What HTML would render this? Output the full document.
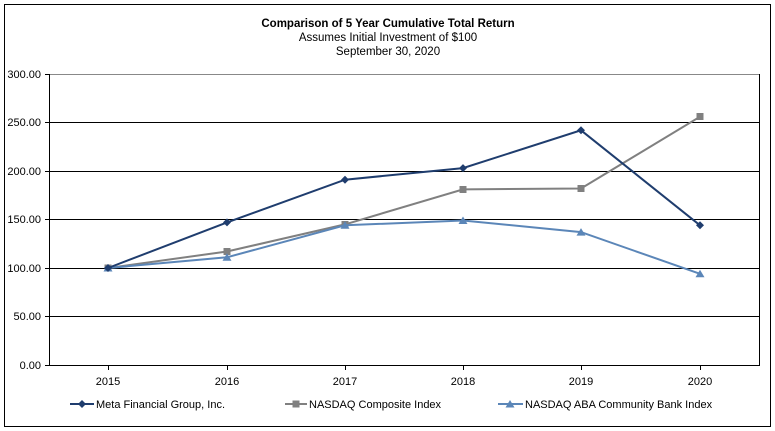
<!DOCTYPE html>
<html><head><meta charset="utf-8"><style>
html,body{margin:0;padding:0;background:#fff;}
svg{display:block;font-family:"Liberation Sans",Arial,sans-serif;}
</style></head><body>
<svg width="775" height="431" viewBox="0 0 775 431" xmlns="http://www.w3.org/2000/svg">
<rect x="4.5" y="4.5" width="766" height="422" fill="#fff" stroke="#000" stroke-width="1"/>
<text x="388" y="27" text-anchor="middle" font-size="11.5" font-weight="bold">Comparison of 5 Year Cumulative Total Return</text>
<text x="388" y="41" text-anchor="middle" font-size="11.5">Assumes Initial Investment of $100</text>
<text x="388" y="55" text-anchor="middle" font-size="11.5">September 30, 2020</text>
<g stroke-width="1">
<line x1="49" y1="74.5" x2="760" y2="74.5" stroke="#888"/>
<line x1="49" y1="122.5" x2="760" y2="122.5" stroke="#000"/>
<line x1="49" y1="171.5" x2="760" y2="171.5" stroke="#000"/>
<line x1="49" y1="219.5" x2="760" y2="219.5" stroke="#000"/>
<line x1="49" y1="268.5" x2="760" y2="268.5" stroke="#000"/>
<line x1="49" y1="316.5" x2="760" y2="316.5" stroke="#000"/>
<line x1="49" y1="365.5" x2="760" y2="365.5" stroke="#000"/>
<line x1="49.5" y1="74" x2="49.5" y2="366" stroke="#000"/>
<line x1="759.5" y1="74" x2="759.5" y2="366" stroke="#000"/>
<g stroke="#000">
<line x1="45" y1="74.5" x2="49" y2="74.5"/><line x1="45" y1="122.5" x2="49" y2="122.5"/><line x1="45" y1="171.5" x2="49" y2="171.5"/><line x1="45" y1="219.5" x2="49" y2="219.5"/><line x1="45" y1="268.5" x2="49" y2="268.5"/><line x1="45" y1="316.5" x2="49" y2="316.5"/><line x1="45" y1="365.5" x2="49" y2="365.5"/>
<line x1="108.5" y1="365" x2="108.5" y2="370"/><line x1="227.5" y1="365" x2="227.5" y2="370"/><line x1="345.5" y1="365" x2="345.5" y2="370"/><line x1="463.5" y1="365" x2="463.5" y2="370"/><line x1="581.5" y1="365" x2="581.5" y2="370"/><line x1="700.5" y1="365" x2="700.5" y2="370"/>
</g>
</g>
<g font-size="11" text-anchor="end">
<text x="41" y="78">300.00</text><text x="41" y="126">250.00</text><text x="41" y="175">200.00</text><text x="41" y="223">150.00</text><text x="41" y="272">100.00</text><text x="41" y="320">50.00</text><text x="41" y="369">0.00</text>
</g>
<g font-size="11" text-anchor="middle">
<text x="108" y="385">2015</text><text x="227" y="385">2016</text><text x="345" y="385">2017</text><text x="463" y="385">2018</text><text x="581" y="385">2019</text><text x="700" y="385">2020</text>
</g>
<!-- series: y = 365 - v*0.97 -->
<polyline fill="none" stroke="#808080" stroke-width="2" points="108,268 227,251.5 345,224.4 463,189.4 581,188.5 700,116.7"/>
<g fill="#808080">
<rect x="104.5" y="264.5" width="7" height="7"/><rect x="223.5" y="248" width="7" height="7"/><rect x="341.5" y="221" width="7" height="7"/><rect x="459.5" y="186" width="7" height="7"/><rect x="577.5" y="185" width="7" height="7"/><rect x="696.5" y="113" width="7" height="7"/>
</g>
<polyline fill="none" stroke="#5b86b8" stroke-width="2" points="108,268 227,257.3 345,225.3 463,220.5 581,232.1 700,273.8"/>
<g fill="#5b86b8">
<polygon points="108,264 112.5,271.5 103.5,271.5"/><polygon points="227,253.3 231.5,260.8 222.5,260.8"/><polygon points="345,221.3 349.5,228.8 340.5,228.8"/><polygon points="463,216.5 467.5,224 458.5,224"/><polygon points="581,228.1 585.5,235.6 576.5,235.6"/><polygon points="700,269.8 704.5,277.3 695.5,277.3"/>
</g>
<polyline fill="none" stroke="#1f3d6e" stroke-width="2" points="108,268 227,222.4 345,179.7 463,168.1 581,130.3 700,225.3"/>
<g fill="#1f3d6e">
<polygon points="108,264 112,268 108,272 104,268"/><polygon points="227,218.4 231,222.4 227,226.4 223,222.4"/><polygon points="345,175.7 349,179.7 345,183.7 341,179.7"/><polygon points="463,164.1 467,168.1 463,172.1 459,168.1"/><polygon points="581,126.3 585,130.3 581,134.3 577,130.3"/><polygon points="700,221.3 704,225.3 700,229.3 696,225.3"/>
</g>
<!-- legend -->
<g font-size="11">
<line x1="70" y1="404" x2="94" y2="404" stroke="#1f3d6e" stroke-width="2"/>
<polygon points="82,400 86,404 82,408 78,404" fill="#1f3d6e"/>
<text x="96" y="408">Meta Financial Group, Inc.</text>
<line x1="285" y1="404" x2="307" y2="404" stroke="#808080" stroke-width="2"/>
<rect x="292.5" y="400.5" width="7" height="7" fill="#808080"/>
<text x="309" y="408">NASDAQ Composite Index</text>
<line x1="498" y1="404" x2="523" y2="404" stroke="#5b86b8" stroke-width="2"/>
<polygon points="510,400 514.5,407.5 505.5,407.5" fill="#5b86b8"/>
<text x="525" y="408">NASDAQ ABA Community Bank Index</text>
</g>
</svg>
</body></html>
